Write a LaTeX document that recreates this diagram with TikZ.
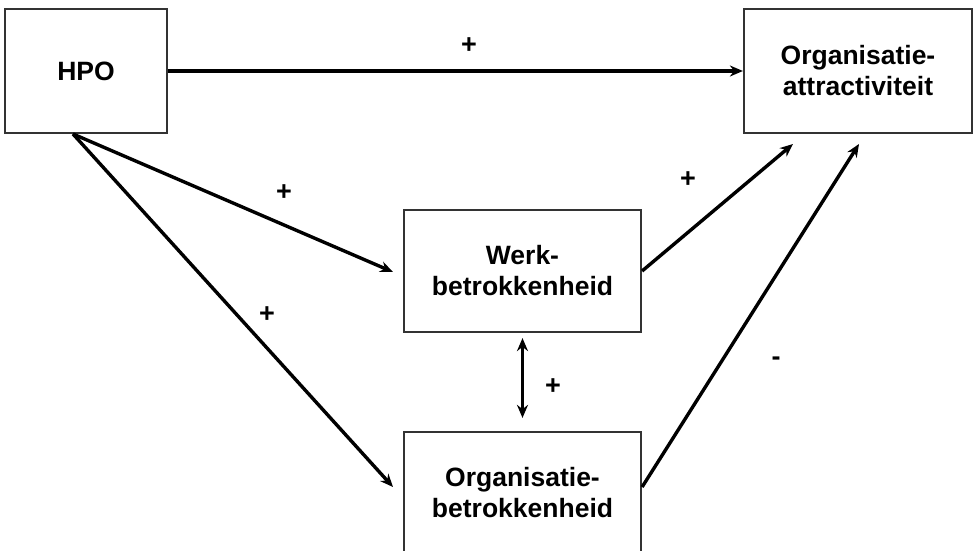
\documentclass[tikz,border=0pt]{standalone}
\usepackage{fontspec}
\setmainfont{Liberation Sans}
\usetikzlibrary{arrows.meta,calc}
\begin{document}
\begin{tikzpicture}[x=1pt,y=-1pt,
  box/.style={draw=black!80,line width=2.2pt,fill=white,inner sep=0pt,align=center,
    font=\fontsize{26.5}{31}\selectfont\bfseries},
  conn/.style={line width=3.4pt,-{Stealth[length=13pt,width=11pt]}},
  sign/.style={font=\fontsize{27}{30}\selectfont\bfseries,inner sep=0pt}]
\useasboundingbox (0,0) rectangle (977,551);
\fill[white] (0,0) rectangle (977,551);
\clip (0,0) rectangle (977,551);
\node[box,minimum width=162pt,minimum height=124pt] (hpo) at (86,71) {HPO};
\node[box,minimum width=228pt,minimum height=124pt] (oa) at (858,71) {Organisatie-\\attractiviteit};
\node[box,minimum width=237pt,minimum height=122pt] (wb) at (522.5,271) {Werk-\\betrokkenheid};
\node[box,minimum width=237pt,minimum height=122pt] (ob) at (522.5,493) {Organisatie-\\betrokkenheid};
\coordinate (hs) at (73,134);
\coordinate (wt) at (393,272);
\coordinate (ot) at (393,487);
\coordinate (oa1) at (793,144);
\coordinate (oa2) at (859,144);
\draw[conn] (hpo.east) -- (oa.west);
\draw[conn] (hs) -- (wt);
\draw[conn] (hs) -- (ot);
\draw[conn] (wb.east) -- (oa1);
\draw[conn] (ob.east |- 0,487) -- (oa2);
\draw[line width=3.4pt,{Stealth[length=13pt,width=11pt]}-{Stealth[length=13pt,width=11pt]}] ([yshift=-5pt]wb.south) -- ([yshift=13pt]ob.north);
\node[sign] (p1) at (469,46) {+};
\node[sign] (p2) at (284,193) {+};
\node[sign] (p3) at (267,315) {+};
\node[sign] (p4) at (688,180) {+};
\node[sign] (p5) at (553,387) {+};
\node[sign] (m1) at (776,361) {-};
\end{tikzpicture}
\end{document}
